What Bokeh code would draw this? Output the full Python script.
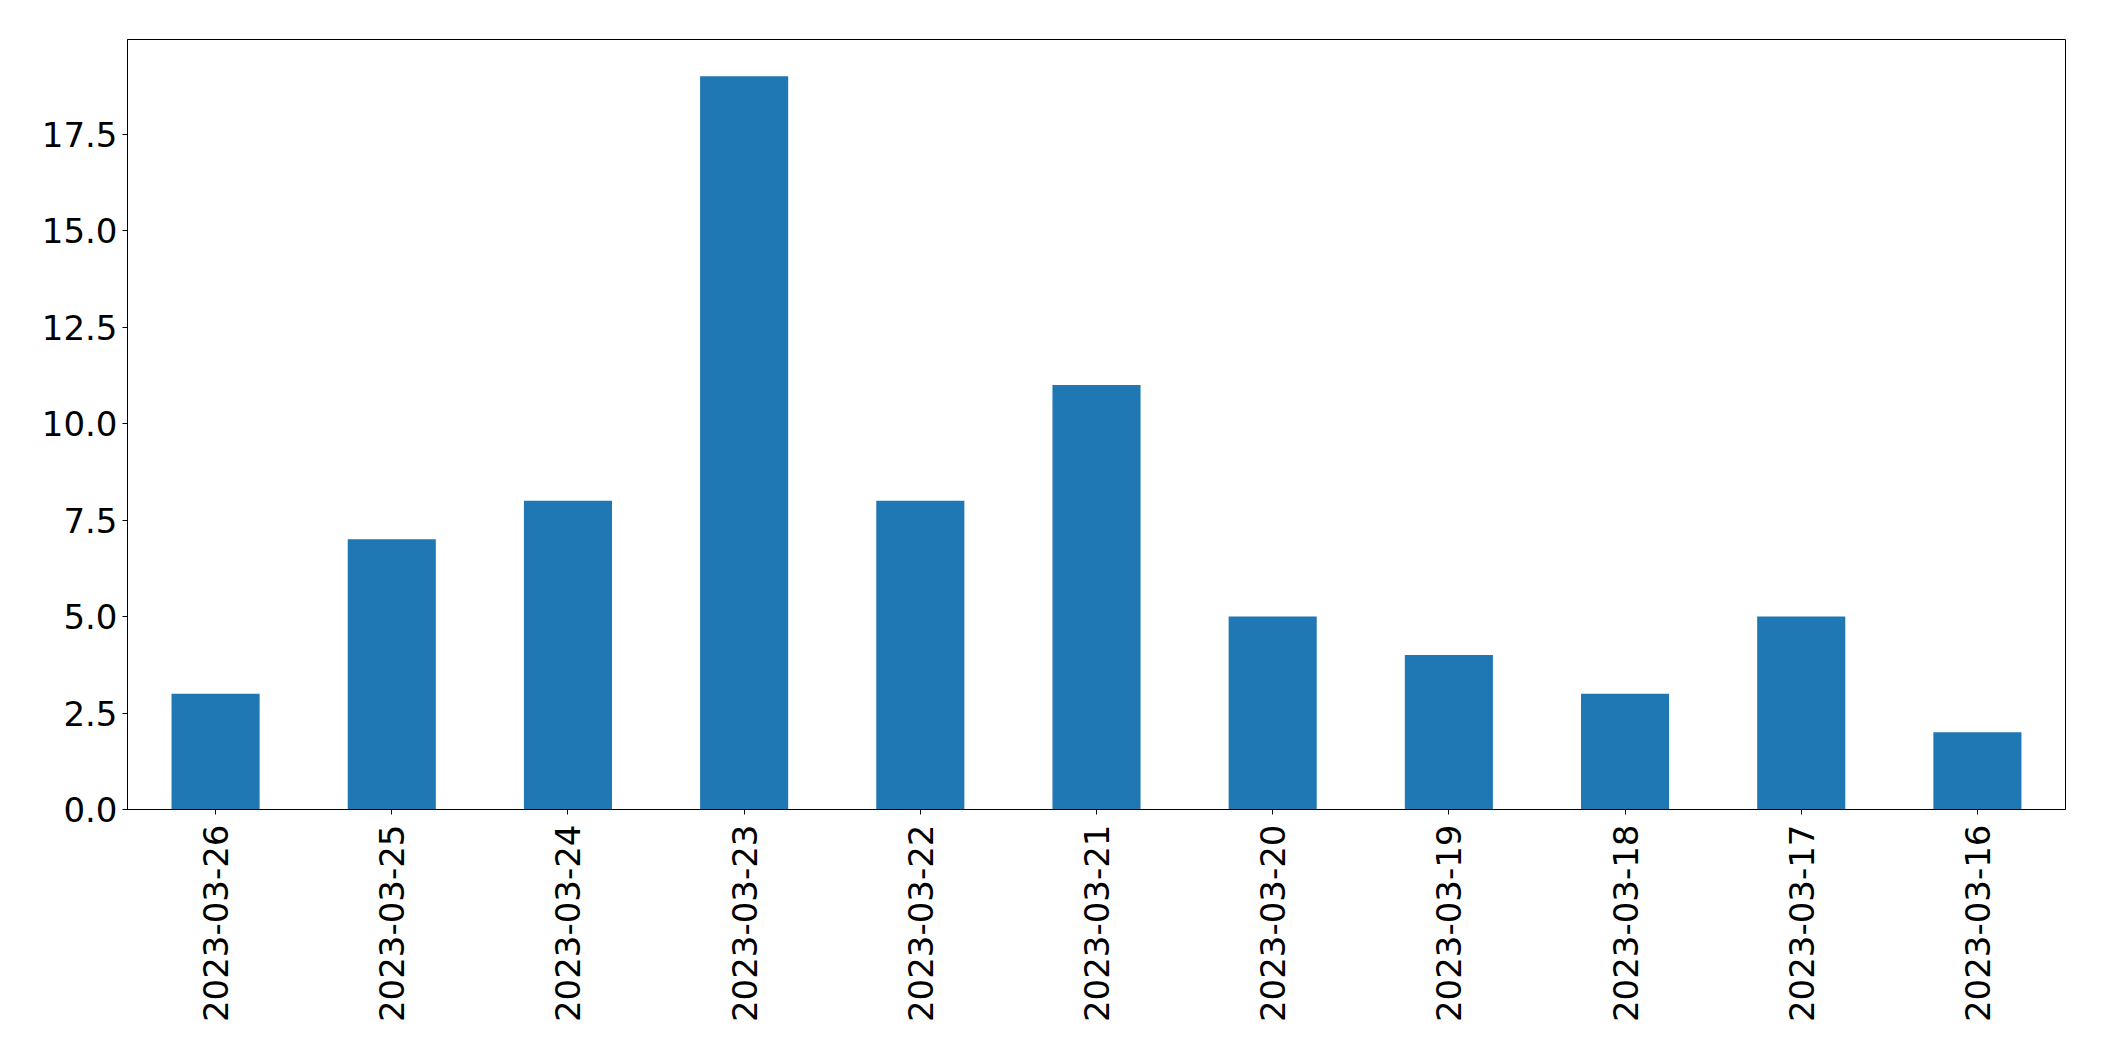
import math
from bokeh.plotting import figure
from bokeh.models import FactorRange, Range1d, FixedTicker, PrintfTickFormatter, ColumnDataSource
from bokeh.embed import file_html
from bokeh.resources import INLINE

dates = ["2023-03-26", "2023-03-25", "2023-03-24", "2023-03-23", "2023-03-22", "2023-03-21",
         "2023-03-20", "2023-03-19", "2023-03-18", "2023-03-17", "2023-03-16"]
counts = [3, 7, 8, 19, 8, 11, 5, 4, 3, 5, 2]
y_ticks = [0, 2.5, 5, 7.5, 10, 12.5, 15, 17.5]

source = ColumnDataSource(data=dict(dates=dates, counts=counts))

p = figure(width=2088, height=1045, x_range=FactorRange(*dates), y_range=Range1d(0, max(counts) * 1.05),
           output_backend="svg", toolbar_location=None,
           min_border_left=127, min_border_right=23, min_border_top=39, min_border_bottom=236)

p.vbar(x="dates", top="counts", width=0.5, source=source, color="#1f77b4", line_color=None)

p.xgrid.visible = False
p.ygrid.visible = False
p.outline_line_color = "black"
p.outline_line_width = 1
p.outline_line_alpha = 1
p.background_fill_color = "white"
p.border_fill_color = "white"

p.yaxis.ticker = FixedTicker(ticks=y_ticks)
p.yaxis.formatter = PrintfTickFormatter(format="%.1f")
p.xaxis.major_label_orientation = math.pi / 2

for ax in (p.xaxis, p.yaxis):
    ax.major_label_text_font = "DejaVu Sans"
    ax.major_label_text_font_size = "34px"
    ax.major_label_text_color = "black"
    ax.major_tick_in = 0
    ax.major_tick_out = 5
    ax.minor_tick_in = 0
    ax.minor_tick_out = 0
    ax.major_tick_line_color = "black"
    ax.axis_line_color = "black"
    ax.major_label_standoff = 5

p.xaxis.major_label_standoff = 10

open("out.html", "w").write(file_html(p, INLINE))
